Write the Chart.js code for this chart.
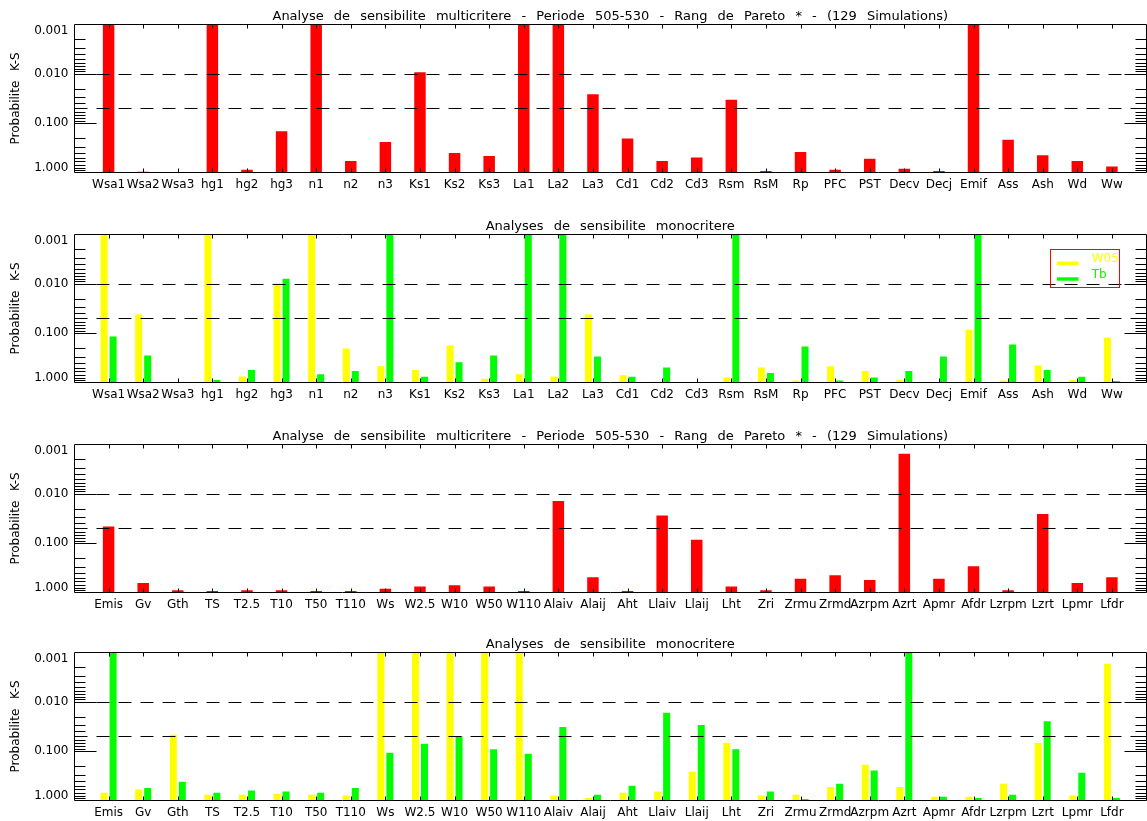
<!DOCTYPE html>
<html>
<head>
<meta charset="utf-8">
<script src="https://cdn.jsdelivr.net/npm/chart.js@4.4.1/dist/chart.umd.min.js"></script>
<style>
    html, body { margin: 0; padding: 0; background: #fff; overflow: hidden; }
    .panel { position: absolute; left: 0; width: 1147px; height: 205px; }
</style>
</head>
<body>
<div class="panel" style="top:0px"><canvas id="p1"></canvas></div>
<div class="panel" style="top:210px"><canvas id="p2"></canvas></div>
<div class="panel" style="top:420px"><canvas id="p3"></canvas></div>
<div class="panel" style="top:628px"><canvas id="p4"></canvas></div>
<script>
// parameters, first pair of panels
const paramsA = ['Wsa1', 'Wsa2', 'Wsa3', 'hg1', 'hg2', 'hg3', 'n1', 'n2', 'n3', 'Ks1', 'Ks2', 'Ks3',
    'La1', 'La2', 'La3', 'Cd1', 'Cd2', 'Cd3', 'Rsm', 'RsM', 'Rp', 'PFC', 'PST', 'Decv', 'Decj',
    'Emif', 'Ass', 'Ash', 'Wd', 'Ww'];
// parameters, second pair of panels
const paramsB = ['Emis', 'Gv', 'Gth', 'TS', 'T2.5', 'T10', 'T50', 'T110', 'Ws', 'W2.5', 'W10', 'W50',
    'W110', 'Alaiv', 'Alaij', 'Aht', 'Llaiv', 'Llaij', 'Lht', 'Zri', 'Zrmu', 'Zrmd', 'Azrpm', 'Azrt',
    'Apmr', 'Afdr', 'Lzrpm', 'Lzrt', 'Lpmr', 'Lfdr'];

// K-S probabilities (0.001 = bar hits the top)
const multiA = [0.001, 0.97, 0.99, 0.001, 0.885, 0.146, 0.001, 0.59, 0.243, 0.0093, 0.406, 0.467,
    0.001, 0.001, 0.026, 0.205, 0.59, 0.497, 0.0337, 0.94, 0.388, 0.885, 0.53, 0.845, 0.94,
    0.001, 0.218, 0.45, 0.59, 0.755];
const w05A = [0.001, 0.042, 0.98, 0.001, 0.755, 0.0098, 0.001, 0.206, 0.472, 0.56, 0.179, 0.84,
    0.687, 0.755, 0.042, 0.72, 0.97, 0.99, 0.80, 0.50, 0.92, 0.472, 0.586, 0.88, 0.99,
    0.086, 0.92, 0.457, 0.894, 0.123];
const tbA = [0.117, 0.286, 0.99, 0.894, 0.56, 0.0079, 0.687, 0.586, 0.001, 0.766, 0.392, 0.286,
    0.001, 0.001, 0.30, 0.766, 0.50, 0.99, 0.001, 0.643, 0.188, 0.92, 0.80, 0.586, 0.30,
    0.001, 0.171, 0.56, 0.766, 0.94];

const multiB = [0.046, 0.647, 0.90, 0.94, 0.90, 0.90, 0.94, 0.94, 0.845, 0.755, 0.72, 0.755,
    0.94, 0.014, 0.495, 0.94, 0.0275, 0.086, 0.755, 0.90, 0.528, 0.45, 0.56, 0.00155,
    0.528, 0.295, 0.90, 0.0258, 0.647, 0.495];
const w05B = [0.70, 0.598, 0.0466, 0.767, 0.767, 0.73, 0.767, 0.80, 0.001, 0.001, 0.001, 0.001,
    0.001, 0.80, 0.894, 0.70, 0.657, 0.262, 0.0676, 0.80, 0.767, 0.535, 0.189, 0.535,
    0.84, 0.84, 0.459, 0.0676, 0.80, 0.0017];
const tbB = [0.001, 0.56, 0.418, 0.70, 0.627, 0.657, 0.70, 0.56, 0.108, 0.071, 0.050, 0.092,
    0.113, 0.0325, 0.767, 0.504, 0.0167, 0.0296, 0.092, 0.657, 0.937, 0.459, 0.247, 0.001,
    0.84, 0.894, 0.767, 0.025, 0.275, 0.894];

const yTicks = [0.001, 0.01, 0.1, 1];
const refLines = [0.01, 0.05];

const titleMulti = 'Analyse de sensibilite multicritere - Periode 505-530 - Rang de Pareto * - (129 Simulations)';
const titleMono = 'Analyses de sensibilite monocritere';
const yTitle = 'Probabilite K-S';

const FONT = 'DejaVu Sans';

// dotted green fill like the original
const greenFill = (() => {
    const c = document.createElement('canvas');
    c.width = 2; c.height = 2;
    const g = c.getContext('2d');
    g.fillStyle = '#00ff00';
    g.fillRect(0, 0, 2, 2);
    g.fillStyle = '#20d860';
    g.fillRect(1, 1, 1, 1);
    return g.createPattern(c, 'repeat');
})();

const toPoints = vals => vals.map((v, i) => ({ x: i, y: v }));

// box, inward ticks, dashed levels, y labels and legend
const idlFrame = {
    id: 'idlFrame',
    beforeDraw(chart) {
        chart.ctx.wordSpacing = '6px';
    },
    afterDatasetsDraw(chart, args, opts) {
        const { ctx, chartArea: a, scales: { x, y } } = chart;
        const L = Math.floor(a.left) + 0.5;
        const R = Math.floor(a.right) + 0.5;
        const T = Math.floor(a.top) + 0.5;
        const B = Math.floor(a.bottom) + 0.5;
        ctx.save();
        ctx.strokeStyle = '#000';
        ctx.lineWidth = 1;

        // dashed reference levels
        ctx.setLineDash([13, 9]);
        refLines.forEach(v => {
            const py = Math.round(y.getPixelForValue(v)) + 0.5;
            ctx.beginPath();
            ctx.moveTo(L, py);
            ctx.lineTo(R, py);
            ctx.stroke();
        });
        ctx.setLineDash([]);

        ctx.beginPath();
        ctx.rect(L, T, R - L, B - T);
        // y ticks, both sides
        for (let d = 0.001; d < 0.5; d *= 10) {
            for (let m = 1; m <= 9; m++) {
                const v = d * m;
                if (m === 1 && d === 0.001) continue;
                const py = Math.round(y.getPixelForValue(v)) + 0.5;
                const len = m === 1 ? 22 : 11;
                ctx.moveTo(L, py); ctx.lineTo(L + len, py);
                ctx.moveTo(R, py); ctx.lineTo(R - len, py);
            }
        }
        // x ticks at every parameter
        const n = opts.count || 0;
        for (let i = 0; i < n; i++) {
            const px = Math.round(x.getPixelForValue(i)) + 0.5;
            ctx.moveTo(px, T); ctx.lineTo(px, T + 4);
            ctx.moveTo(px, B); ctx.lineTo(px, B - 4);
        }
        ctx.stroke();

        // y tick labels
        ctx.fillStyle = '#000';
        ctx.font = '12px ' + FONT;
        ctx.textAlign = 'right';
        ctx.textBaseline = 'middle';
        yTicks.forEach(v => {
            let py = y.getPixelForValue(v);
            py = Math.min(Math.max(py, a.top + 6.5), a.bottom - 5);
            ctx.fillText(v.toFixed(3), a.left - 5.5, py);
        });

        // legend box
        if (opts.legend) {
            const bx = Math.round(a.right - 96.5);
            const by = Math.round(a.top + 14.7);
            ctx.strokeStyle = '#ff0000';
            ctx.strokeRect(bx + 0.5, by + 0.5, 69, 38);
            ctx.textAlign = 'left';
            chart.data.datasets.forEach((ds, k) => {
                const ly = by + 14.3 + k * 15.7;
                ctx.fillStyle = ds.backgroundColor;
                ctx.fillRect(bx + 7, ly - 1.7, 21.5, 3.4);
                ctx.fillStyle = ds.borderColor;
                ctx.fillText(ds.label, bx + 41.7, ly - 4.5);
            });
        }
        ctx.restore();
    }
};

function buildChart(id, cats, datasets, title, legend) {
    const tickFont = { family: FONT, size: 12, weight: 'normal' };
    return new Chart(document.getElementById(id), {
        type: 'bar',
        data: { datasets },
        options: {
            responsive: true,
            maintainAspectRatio: false,
            animation: false,
            events: [],
            layout: { padding: { left: 0, right: 0.5, top: 0, bottom: 0 } },
            plugins: {
                legend: { display: false },
                tooltip: { enabled: false },
                title: {
                    display: true,
                    text: title,
                    fullSize: false,
                    color: '#000',
                    font: { family: FONT, size: 13, weight: 'normal' },
                    padding: { top: 8.5, bottom: 0.3 }
                },
                idlFrame: { legend, count: cats.length }
            },
            scales: {
                x: {
                    type: 'linear',
                    min: -1,
                    max: cats.length,
                    offset: false,
                    grid: { display: false, drawTicks: false },
                    border: { display: false },
                    afterBuildTicks: s => {
                        s.ticks = [];
                        for (let v = -1; v <= cats.length; v++) s.ticks.push({ value: v });
                    },
                    ticks: {
                        autoSkip: false,
                        maxRotation: 0,
                        color: '#000',
                        font: tickFont,
                        padding: 5,
                        callback: v => cats[v] ?? ''
                    },
                    afterFit: s => {
                        s.height = 32.6;
                        s.paddingLeft = 0;
                        s.paddingRight = 0;
                    }
                },
                y: {
                    type: 'logarithmic',
                    reverse: true,
                    min: 0.001,
                    max: 1,
                    grid: { display: false, drawTicks: false },
                    border: { display: false },
                    ticks: { display: false },
                    title: {
                        display: true,
                        text: yTitle,
                        color: '#000',
                        font: tickFont,
                        padding: { top: 9, bottom: 0 }
                    },
                    afterFit: s => { s.width = 74; }
                }
            }
        },
        plugins: [idlFrame]
    });
}

const single = (vals) => [{
    label: 'Multicritere',
    data: toPoints(vals),
    base: 1,
    backgroundColor: '#ff0000',
    borderWidth: 0,
    categoryPercentage: 0.8,
    barPercentage: 0.415
}];
const pair = (yellow, green) => [
    { label: 'W05', data: toPoints(yellow), base: 1, backgroundColor: '#ffff00', borderColor: '#ffff00',
      borderWidth: 0, categoryPercentage: 0.52, barPercentage: 0.78 },
    { label: 'Tb', data: toPoints(green), base: 1, backgroundColor: greenFill, borderColor: '#00ff00',
      borderWidth: 0, categoryPercentage: 0.52, barPercentage: 0.78 }
];

buildChart('p1', paramsA, single(multiA), titleMulti, false);
buildChart('p2', paramsA, pair(w05A, tbA), titleMono, true);
buildChart('p3', paramsB, single(multiB), titleMulti, false);
buildChart('p4', paramsB, pair(w05B, tbB), titleMono, false);
</script>
</body>
</html>
